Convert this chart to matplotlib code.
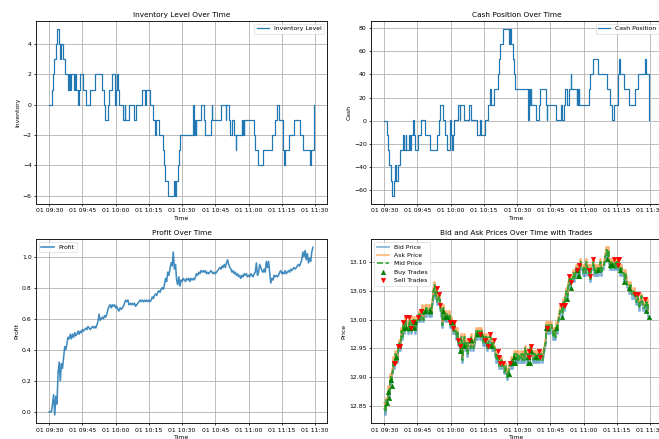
import numpy as np
import pandas as pd
import matplotlib
matplotlib.use('Agg')
import matplotlib.pyplot as plt
import matplotlib.dates as mdates

start = pd.Timestamp('2024-01-01 09:30:00')

# inventory changes: minutes after the open and position after each fill
inv_minutes = [0.0, 1.05, 1.8, 2.1, 2.85, 3.3, 4.5, 4.8, 5.2, 6.3, 7.2, 8.5, 8.8, 9.6, 10.0,
               11.1, 11.5, 12.0, 13.0, 13.3, 13.8, 15.3, 16.5, 18.6, 20.8, 23.8, 24.7, 25.0,
               26.6, 27.2, 28.3, 29.5, 29.9, 30.2, 30.4, 31.0, 31.7, 33.5, 34.1, 34.4, 35.9,
               38.1, 39.2, 41.7, 43.2, 43.7, 45.6, 46.7, 47.9, 48.3, 49.4, 51.2, 51.9, 52.4,
               53.7, 56.4, 56.8, 57.4, 58.2, 58.6, 59.1, 64.9, 65.0, 65.2, 65.5, 65.8, 66.1,
               66.4, 68.7, 69.7, 70.2, 73.0, 73.3, 73.6, 77.5, 79.6, 80.0, 81.1, 81.4, 82.6,
               83.5, 84.1, 84.4, 86.8, 87.1, 87.4, 87.7, 88.0, 92.3, 93.0, 94.2, 96.3, 100.5,
               101.7, 102.8, 103.8, 105.3, 105.5, 105.9, 106.4, 108.3, 110.3, 113.2, 114.4,
               117.9, 118.3, 119.4]
inventory = [0, 1, 2, 3, 4, 5, 4, 3, 4, 3, 2, 1, 2, 1, 2,
             1, 2, 1, 0, 1, 2, 1, 0, 1, 2, 1, 0, -1,
             0, 1, 2, 1, 0, 1, 2, 1, 0, -1, 0, -1, 0,
             -1, 0, 1, 0, 1, 0, -1, -2, -1, -2, -3, -4, -5,
             -6, -5, -6, -5, -4, -3, -2, -1, 0, -1, -2, -1, -2,
             -1, 0, -1, -2, -1, 0, -1, 0, -1, 0, -1, -2, -1,
             -2, -3, -2, -1, -2, -1, -2, -1, -2, -3, -4, -3, -2,
             -1, 0, -1, -2, -3, -4, -3, -2, -1, -2, -3,
             -4, -3, 0]
cash = [0.0, -12.5, -25.5, -38.5, -51.5, -64.5, -51.5, -38.5, -51.5, -38.5, -25.5, -12.5, -25.5, -12.5, -25.5,
        -12.5, -25.5, -12.5, 0.5, -12.5, -25.5, -12.5, 0.5, -12.5, -25.5, -12.5, 0.5, 13.5,
        0.5, -12.5, -25.5, -12.5, 0.5, -12.5, -25.5, -12.5, 0.5, 13.5, 0.5, 13.5, 0.5,
        13.5, 0.5, -12.5, 0.5, -12.5, 0.5, 14, 27, 14, 27, 40, 53, 66,
        79, 66, 79, 66, 53, 40, 27, 14, 1, 14, 27, 14, 27,
        14, 1, 14, 27, 14, 1, 14, 1, 14, 1, 14, 27, 14,
        27, 40, 27, 14, 27, 14, 27, 14, 27, 40, 53, 40, 27,
        14, 1, 14, 27, 40, 53, 40, 27, 14, 27, 40,
        53, 40, 1]

# mid price and profit sampled every 30 seconds from 09:30
mid_price = [12.85, 12.84, 12.86, 12.88, 12.87, 12.90, 12.89, 12.91, 12.93, 12.92,
             12.94, 12.93, 12.95, 12.96, 12.95, 12.98, 12.97, 12.99, 12.98, 13.00,
             12.99, 12.98, 13.00, 12.99, 12.98, 13.00, 12.99, 13.00, 12.98, 12.99,
             13.00, 13.01, 13.00, 13.01, 13.02, 13.00, 13.01, 13.02, 13.01, 13.02,
             13.01, 13.02, 13.01, 13.03, 13.05, 13.06, 13.04, 13.05, 13.03, 13.04,
             13.02, 13.01, 12.99, 13.02, 13.01, 13.00, 13.01, 13.00, 13.01, 12.99,
             13.00, 12.99, 12.98, 12.99, 12.98, 12.97, 12.98, 12.96, 12.95, 12.97,
             12.93, 12.96, 12.97, 12.95, 12.96, 12.94, 12.96, 12.95, 12.97, 12.96,
             12.95, 12.96, 12.97, 12.98, 12.97, 12.98, 12.97, 12.98, 12.97, 12.96,
             12.97, 12.96, 12.97, 12.95, 12.96, 12.97, 12.96, 12.95, 12.96, 12.95,
             12.94, 12.93, 12.94, 12.93, 12.92, 12.93, 12.92, 12.92, 12.91, 12.92,
             12.91, 12.90, 12.91, 12.92, 12.93, 12.92, 12.93, 12.94, 12.93, 12.94,
             12.93, 12.94, 12.93, 12.94, 12.93, 12.94, 12.93, 12.95, 12.94, 12.93,
             12.94, 12.93, 12.95, 12.94, 12.93, 12.94, 12.93, 12.94, 12.93, 12.94,
             12.93, 12.94, 12.93, 12.94, 12.95, 12.96, 12.99, 12.98, 12.99, 12.98,
             12.99, 12.98, 12.97, 12.98, 12.97, 12.99, 12.98, 13.00, 13.01, 13.02,
             13.01, 13.03, 13.02, 13.04, 13.05, 13.04, 13.06, 13.07, 13.06, 13.07,
             13.08, 13.07, 13.08, 13.09, 13.08, 13.09, 13.08, 13.10, 13.09, 13.08,
             13.09, 13.08, 13.10, 13.09, 13.08, 13.09, 13.07, 13.09, 13.10, 13.08,
             13.09, 13.08, 13.09, 13.08, 13.09, 13.10, 13.08, 13.09, 13.10, 13.11,
             13.12, 13.11, 13.12, 13.10, 13.09, 13.10, 13.09, 13.10, 13.09, 13.10,
             13.09, 13.10, 13.09, 13.08, 13.09, 13.08, 13.07, 13.08, 13.07, 13.06,
             13.06, 13.05, 13.06, 13.05, 13.04, 13.05, 13.04, 13.03, 13.04, 13.03,
             13.02, 13.03, 13.04, 13.03, 13.02, 13.03, 13.02, 13.03, 13.01]
half_spread = 0.005

profit = [0.00, 0.00, 0.00, 0.05, 0.11, -0.02, 0.10, 0.05, 0.25, 0.32,
          0.20, 0.31, 0.28, 0.35, 0.42, 0.40, 0.44, 0.48, 0.47, 0.50,
          0.47, 0.50, 0.48, 0.51, 0.49, 0.50, 0.52, 0.50, 0.52, 0.51,
          0.53, 0.52, 0.53, 0.54, 0.53, 0.55, 0.54, 0.53, 0.54, 0.55,
          0.54, 0.55, 0.54, 0.56, 0.58, 0.63, 0.59, 0.60, 0.61, 0.60,
          0.62, 0.61, 0.63, 0.66, 0.68, 0.69, 0.67, 0.69, 0.68, 0.69,
          0.67, 0.68, 0.66, 0.65, 0.67, 0.66, 0.67, 0.68, 0.70, 0.72,
          0.71, 0.72, 0.69, 0.70, 0.69, 0.70, 0.69, 0.70, 0.68, 0.69,
          0.70, 0.71, 0.72, 0.71, 0.72, 0.71, 0.72, 0.71, 0.72, 0.71,
          0.72, 0.71, 0.72, 0.74, 0.73, 0.75, 0.76, 0.75, 0.77, 0.78,
          0.77, 0.79, 0.80, 0.79, 0.82, 0.86, 0.84, 0.90, 0.88, 0.92,
          0.96, 0.94, 1.03, 0.92, 0.95, 0.85, 0.82, 0.87, 0.81, 0.85,
          0.84, 0.86, 0.85, 0.84, 0.86, 0.85, 0.86, 0.84, 0.86, 0.85,
          0.86, 0.85, 0.87, 0.89, 0.88, 0.90, 0.89, 0.91, 0.90, 0.91,
          0.90, 0.91, 0.89, 0.90, 0.89, 0.90, 0.91, 0.90, 0.89, 0.90,
          0.89, 0.90, 0.91, 0.92, 0.93, 0.92, 0.94, 0.93, 0.95, 0.93,
          0.96, 0.98, 0.95, 0.93, 0.92, 0.90, 0.91, 0.89, 0.90, 0.88,
          0.89, 0.87, 0.88, 0.86, 0.88, 0.87, 0.89, 0.88, 0.89, 0.87,
          0.88, 0.87, 0.89, 0.88, 0.87, 0.89, 0.90, 0.96, 0.88, 0.90,
          0.95, 0.93, 0.91, 0.90, 0.92, 0.90, 0.97, 0.93, 0.97, 0.90,
          0.83, 0.86, 0.85, 0.88, 0.87, 0.88, 0.87, 0.88, 0.90, 0.91,
          0.89, 0.90, 0.89, 0.91, 0.89, 0.90, 0.91, 0.90, 0.92, 0.91,
          0.92, 0.93, 0.92, 0.93, 0.94, 0.95, 0.94, 0.96, 0.98, 1.03,
          1.00, 1.04, 0.98, 1.02, 0.96, 0.99, 0.97, 1.03, 1.06]

inv_times = start + pd.to_timedelta(inv_minutes, unit='min')
times = pd.date_range(start, periods=len(mid_price), freq='30s')
mid = np.array(mid_price)
bid = mid - half_spread
ask = mid + half_spread

# fills: inventory up = buy at bid, inventory down = sell at ask
inv_arr = np.array(inventory)
changes = np.diff(inv_arr)
fill_min = np.array(inv_minutes[1:])
fill_idx = np.minimum((fill_min / 0.5).astype(int), len(mid) - 1)
buy_mask = changes > 0
sell_mask = changes < 0

plt.rcParams['lines.linewidth'] = 2.0
plt.rcParams['grid.linewidth'] = 1.4
plt.rcParams['grid.color'] = '#b4b4b4'
plt.rcParams['axes.linewidth'] = 1.4
plt.rcParams['xtick.major.width'] = 1.2
plt.rcParams['ytick.major.width'] = 1.2

fig = plt.figure(figsize=(659 / 44, 439 / 44), dpi=44)
ax1 = fig.add_axes([0.0546, 0.5353, 0.4416, 0.4175])
ax2 = fig.add_axes([0.563, 0.5353, 0.4416, 0.4175], sharex=ax1)
ax3 = fig.add_axes([0.0546, 0.0358, 0.4416, 0.4198], sharex=ax1)
ax4 = fig.add_axes([0.563, 0.0358, 0.4416, 0.4198], sharex=ax1)

ax1.step(inv_times, inventory, where='post', label='Inventory Level')
ax1.set_title('Inventory Level Over Time')
ax1.set_xlabel('Time')
ax1.set_ylabel('Inventory')
ax1.legend(loc='upper right')

ax2.step(inv_times, cash, where='post', label='Cash Position')
ax2.set_title('Cash Position Over Time')
ax2.set_xlabel('Time')
ax2.set_ylabel('Cash')
ax2.legend(loc='upper right')

ax3.plot(times, profit, label='Profit', alpha=0.85, linewidth=2.6)
ax3.set_title('Profit Over Time')
ax3.set_xlabel('Time')
ax3.set_ylabel('Profit')
ax3.legend(loc='upper left')

ax4.plot(times, bid, drawstyle='steps-post', label='Bid Price', alpha=0.6, linewidth=2.6)
ax4.plot(times, ask, drawstyle='steps-post', label='Ask Price', alpha=0.6, linewidth=2.6)
ax4.plot(times, mid, drawstyle='steps-post', linestyle='--', label='Mid Price', linewidth=2.6)
ax4.scatter(inv_times[1:][buy_mask], bid[fill_idx[buy_mask]], marker='^', color='green',
            s=50, label='Buy Trades', zorder=3)
ax4.scatter(inv_times[1:][sell_mask], ask[fill_idx[sell_mask]], marker='v', color='red',
            s=50, label='Sell Trades', zorder=3)
ax4.set_title('Bid and Ask Prices Over Time with Trades')
ax4.set_xlabel('Time')
ax4.set_ylabel('Price')
ax4.legend(loc='upper left')

for ax in (ax1, ax2, ax3, ax4):
    ax.grid(True)
    ax.xaxis.set_major_locator(mdates.MinuteLocator(byminute=[0, 15, 30, 45]))
    ax.xaxis.set_major_formatter(mdates.DateFormatter('%d %H:%M'))

fig.savefig('out.png', dpi=44)
